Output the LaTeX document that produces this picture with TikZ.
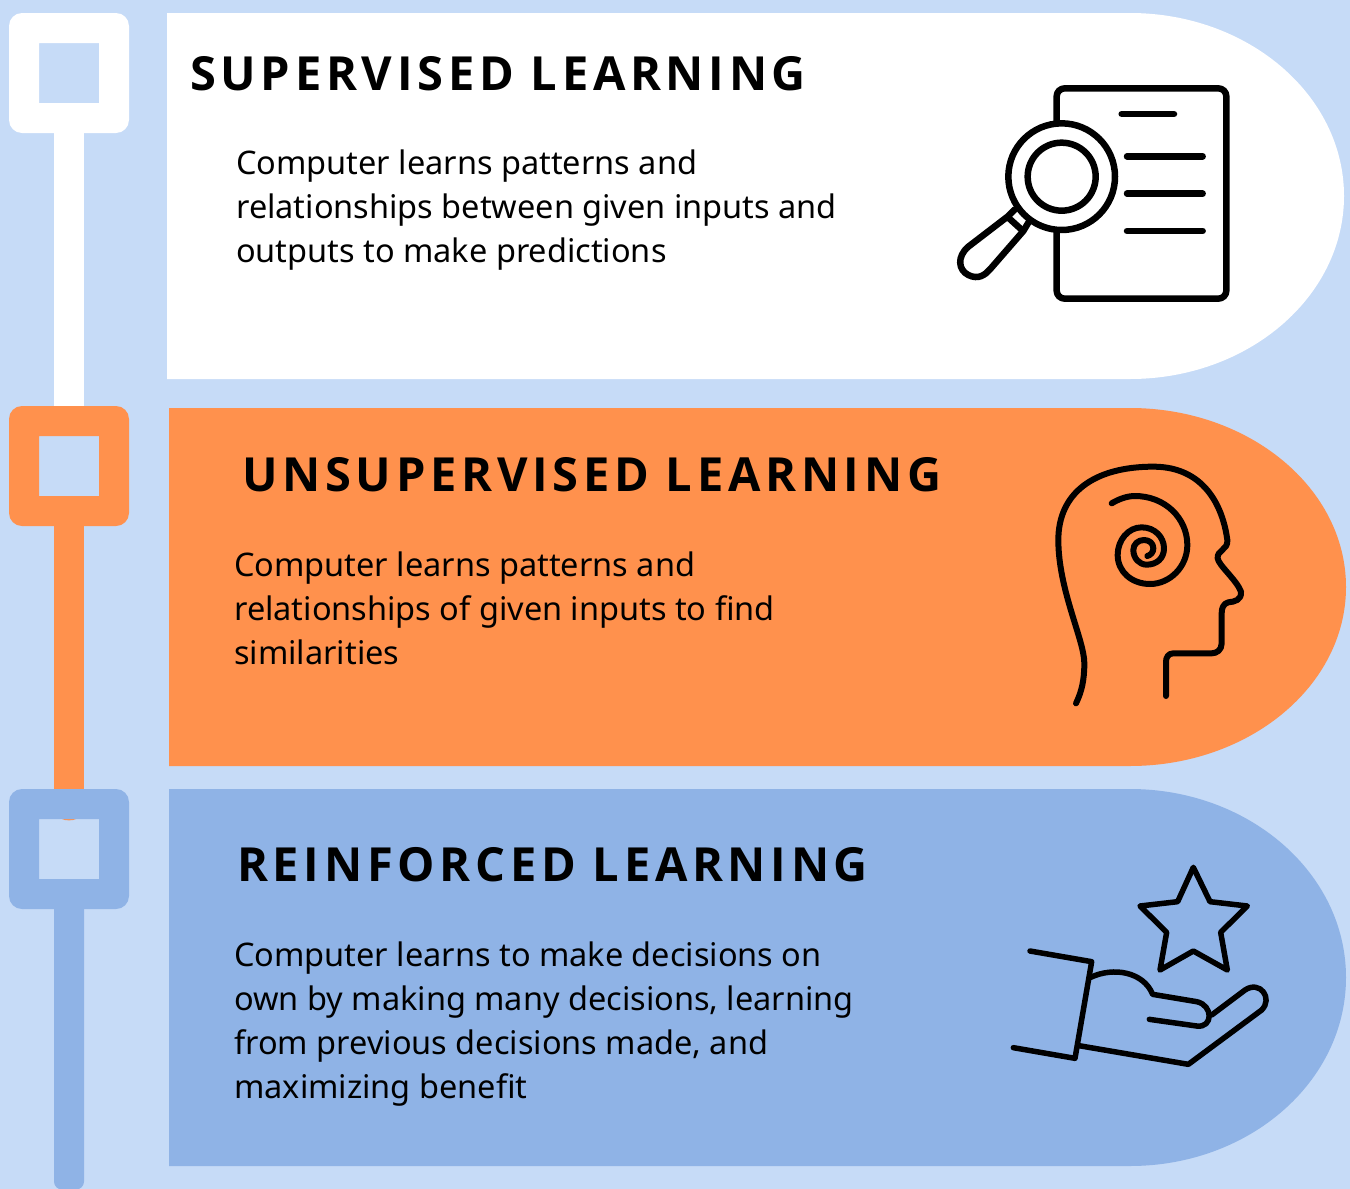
\documentclass[tikz,border=0pt]{standalone}
\usepackage{fontspec}
\setmainfont{Noto Sans}
\newfontfamily\titlefont[LetterSpace=10]{Open Sans}
\definecolor{bgblue}{HTML}{C6DBF7}
\definecolor{midblue}{HTML}{8FB3E6}
\definecolor{brightorange}{HTML}{FF914D}
\tikzset{
  titletext/.style={anchor=base west,inner sep=0pt,font=\titlefont\bfseries\fontsize{47}{56}\selectfont,text=black},
  bodytext/.style={anchor=base west,inner sep=0pt,align=left,font=\fontsize{32.5}{44}\selectfont,text=black},
  frame/.style={rounded corners=13pt,even odd rule},
  icon/.style={draw=black,line cap=round,line join=round,line width=#1},
  icon/.default=5pt
}
\begin{document}
\begin{tikzpicture}[x=1pt,y=-1pt]
\useasboundingbox (0,0) rectangle (1350,1189);
\fill[bgblue] (0,0) rectangle (1350,1189);
% panels
\fill[white] (167,13) -- (1130,13) .. controls (1248,13) and (1344,95) .. (1344,196) .. controls (1344,297) and (1248,379) .. (1130,379) -- (167,379) -- cycle;
\fill[brightorange] (169,408) -- (1130,408) .. controls (1249,408) and (1346,488) .. (1346,587) .. controls (1346,686) and (1249,766) .. (1130,766) -- (169,766) -- cycle;
\fill[midblue] (169,789) -- (1130,789) .. controls (1249,789) and (1346,873) .. (1346,977.5) .. controls (1346,1082) and (1249,1166) .. (1130,1166) -- (169,1166) -- cycle;
% timeline
\fill[white] (54,120) rectangle (84,410);
\fill[brightorange] (54,510) rectangle (84,795);
\fill[brightorange] (62,819) .. controls (65,820.8) and (73,820.8) .. (76,819) -- cycle;
\fill[midblue,rounded corners=8pt] (54,900) -- (84,900) -- (84,1189.5) -- (54,1189.5) -- cycle;
\fill[white,frame] (9,13) rectangle (129,133) [sharp corners] (39,43) rectangle (99,103);
\fill[brightorange,frame] (9,406) rectangle (129,526) [sharp corners] (39,436) rectangle (99,496);
\fill[midblue,frame] (9,789) rectangle (129,909) [sharp corners] (39,819) rectangle (99,879);
% texts
\node[titletext] (t1) at (190,90) {SUPERVISED LEARNING};
\node[titletext] (t2) at (242,491) {UNSUPERVISED LEARNING};
\node[titletext] (t3) at (237,881) {REINFORCED LEARNING};
\node[bodytext] (b1) at (236,262) {Computer learns patterns and\\relationships between given inputs and\\outputs to make predictions};
\node[bodytext] (b2) at (234,664) {Computer learns patterns and\\relationships of given inputs to find\\similarities};
\node[bodytext] (b3) at (234,1098) {Computer learns to make decisions on\\own by making many decisions, learning\\from previous decisions made, and\\maximizing benefit};
% document and magnifier
\begin{scope}[shift={(940pt,-70pt)},x=0.33333pt,y=-0.33333pt]
\draw[icon=6.5pt,rounded corners=8pt] (350,155) -- (350,55) -- (859,55) -- (859,686) -- (350,686) -- (350,488);
\draw[icon=6.5pt] (545,132) -- (702,132);
\draw[icon=6.5pt] (561,259) -- (788,259);
\draw[icon=6.5pt] (561,371) -- (788,371);
\draw[icon=6.5pt] (561,483) -- (788,483);
\draw[icon=6.5pt] (365,320) circle[radius=160];
\draw[icon=6.5pt] (365,320) circle[radius=102];
\draw[icon=6.5pt] (225,418) -- (205,438) -- (85,530) .. controls (50,560) and (55,600) .. (85,615) .. controls (115,630) and (135,615) .. (150,598) -- (250,483) -- (265,458);
\draw[icon=6.5pt] (205,443) -- (248,482);
\end{scope}
% head
\begin{scope}[shift={(1040pt,-450pt)},x=0.33333pt,y=-0.33333pt]
\draw[icon=6pt] (108,760) .. controls (125,725) and (133,690) .. (133,640) .. controls (133,570) and (55,420) .. (55,270) .. controls (55,130) and (160,50) .. (340,50) .. controls (490,50) and (548,165) .. (562,270) .. controls (565,300) and (530,300) .. (533,325) .. controls (535,345) and (590,390) .. (603,425) .. controls (605,450) and (585,455) .. (565,457) .. controls (550,460) and (545,475) .. (545,490) -- (545,580) .. controls (545,600) and (530,610) .. (515,610) -- (400,610) .. controls (385,610) and (378,622) .. (378,635) -- (378,738);
\draw[icon=6pt] (215,160) .. controls (235,148) and (260,138) .. (285,138) .. controls (375,138) and (442,205) .. (442,285) .. controls (442,350) and (390,402) .. (330,402) .. controls (275,402) and (233,365) .. (233,315) .. controls (233,270) and (265,232) .. (305,232) .. controls (345,232) and (372,262) .. (372,295) .. controls (372,325) and (350,344) .. (320,344) .. controls (298,344) and (280,325) .. (280,300) .. controls (280,282) and (295,270) .. (312,270) .. controls (328,270) and (340,280) .. (340,295) .. controls (340,307) and (332,315) .. (322,318);
\end{scope}
% hand and star
\begin{scope}[shift={(1000pt,-855pt)},x=0.33333pt,y=-0.33333pt]
\draw[icon=5.5pt] (580,37) -- (630,140) -- (742,153) -- (662,232) -- (682,345) -- (580,288) -- (480,345) -- (500,232) -- (420,153) -- (533,140) -- cycle;
\draw[icon=5.5pt] (90,288) -- (275,320) -- (225,610) -- (40,578);
\draw[icon=5.5pt] (272,367) .. controls (340,335) and (430,350) .. (458,418) -- (590,440) .. controls (640,450) and (640,520) .. (590,513) -- (448,493);
\draw[icon=5.5pt] (237,572) -- (565,628) -- (785,465) .. controls (820,430) and (780,375) .. (735,405) -- (635,480);
\end{scope}
\end{tikzpicture}
\end{document}
